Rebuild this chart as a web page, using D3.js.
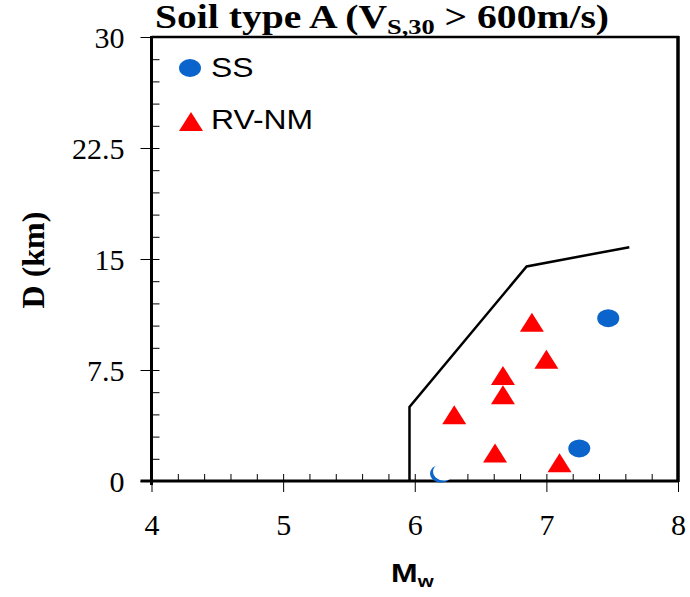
<!DOCTYPE html>
<html>
<head>
<meta charset="utf-8">
<script src="https://cdn.jsdelivr.net/npm/d3@7"></script>
<style>
  html, body { margin: 0; padding: 0; background: #fff; }
  svg { display: block; }
</style>
</head>
<body>
<script>
// Strike-slip (SS) events: magnitude and distance
const ssMw = [7.47, 7.25, 6.2];
const ssD  = [11.0, 2.2, 0.5];
// Reverse / normal (RV-NM) events
const rvMw = [6.89, 7.0, 6.67, 6.67, 6.3, 6.61, 7.1];
const rvD  = [10.7, 8.2, 7.1, 5.8, 4.45, 1.85, 1.2];
// Boundary of the applicability region
const boundMw = [5.96, 5.96, 6.85, 7.63];
const boundD  = [0, 5.0, 14.5, 15.8];
// Axis ticks
const xTicks = [4, 5, 6, 7, 8];
const yTicks = [0, 7.5, 15, 22.5, 30];
const legendLabels = ["SS", "RV-NM"];

const W = 690, H = 597;
const m = { left: 151.5, right: 678, top: 37, bottom: 481 };

const svg = d3.select("body").append("svg").attr("width", W).attr("height", H);

const x = d3.scaleLinear().domain([4, 8]).range([m.left, m.right]);
const y = d3.scaleLinear().domain([0, 30]).range([m.bottom, m.top]);

const serif = "'Liberation Serif', 'Times New Roman', serif";
const sans = "'Liberation Sans', Arial, sans-serif";

// minor ticks (inside)
const xMinor = d3.range(4, 8.0001, 0.2);
const yMinor = d3.range(0, 30.0001, 1.5);

const xAxisMinor = d3.axisTop(x).tickValues(xMinor).tickSize(7).tickFormat("");
svg.append("g").attr("transform", `translate(0,${m.bottom})`).call(xAxisMinor)
  .call(g => g.select(".domain").remove())
  .call(g => g.selectAll("line").attr("stroke", "#000").attr("stroke-width", 1));

const yAxisMinor = d3.axisRight(y).tickValues(yMinor).tickSize(8).tickFormat("");
svg.append("g").attr("transform", `translate(${m.left},0)`).call(yAxisMinor)
  .call(g => g.select(".domain").remove())
  .call(g => g.selectAll("line").attr("stroke", "#000").attr("stroke-width", 1));

// major ticks (outside) with labels
const xAxis = d3.axisBottom(x).tickValues(xTicks).tickSize(11).tickPadding(22).tickFormat(d3.format("d"));
svg.append("g").attr("transform", `translate(0,${m.bottom})`).call(xAxis)
  .call(g => g.select(".domain").remove())
  .call(g => g.selectAll("line").attr("stroke", "#000").attr("stroke-width", 1))
  .call(g => g.selectAll("text").attr("font-family", serif).attr("font-size", 30).attr("fill", "#000"));

const yAxis = d3.axisLeft(y).tickValues(yTicks).tickSize(11).tickPadding(16).tickFormat(d => String(d));
svg.append("g").attr("transform", `translate(${m.left},0)`).call(yAxis)
  .call(g => g.select(".domain").remove())
  .call(g => g.selectAll("line").attr("stroke", "#000").attr("stroke-width", 1))
  .call(g => g.selectAll("text").attr("font-family", serif).attr("font-size", 30).attr("fill", "#000").attr("dy", "0.35em"));

// frame
svg.append("line").attr("x1", m.left).attr("x2", m.left).attr("y1", m.top - 1).attr("y2", m.bottom + 4)
  .attr("stroke", "#000").attr("stroke-width", 3);
svg.append("line").attr("x1", m.left - 11).attr("x2", m.right + 1).attr("y1", m.bottom).attr("y2", m.bottom)
  .attr("stroke", "#000").attr("stroke-width", 3);
svg.append("line").attr("x1", m.right).attr("x2", m.right).attr("y1", m.top - 1).attr("y2", m.bottom + 1)
  .attr("stroke", "#000").attr("stroke-width", 3.5);
svg.append("line").attr("x1", m.left).attr("x2", m.right + 1).attr("y1", m.top).attr("y2", m.top)
  .attr("stroke", "#000").attr("stroke-width", 2.5);

// boundary line
const boundPts = boundMw.map((v, i) => [x(v), y(boundD[i])]);
svg.append("path").attr("d", d3.line()(boundPts)).attr("fill", "none")
  .attr("stroke", "#000").attr("stroke-width", 2.5).attr("stroke-linejoin", "miter");

const blue = "#0a64cc", red = "#ff0000";
const tri = (cx, cy) => `M${cx},${cy - 10}L${cx + 12},${cy + 9}L${cx - 12},${cy + 9}Z`;

// RV-NM triangles
svg.append("g").selectAll("path").data(rvMw).join("path")
  .attr("d", (d, i) => tri(x(d), y(rvD[i])))
  .attr("fill", red);

// SS circles
const ssG = svg.append("g");
ssMw.forEach((v, i) => {
  ssG.append("ellipse").attr("cx", x(v)).attr("cy", y(ssD[i])).attr("rx", 11).attr("ry", 9).attr("fill", blue);
});
// the event at the lower boundary is mostly masked in white
ssG.append("ellipse").attr("cx", x(ssMw[2]) + 3).attr("cy", y(ssD[2]) - 2).attr("rx", 11).attr("ry", 9).attr("fill", "#fff");

// legend (text slightly widened)
const lg = svg.append("g").attr("font-family", sans).attr("font-size", 27).attr("fill", "#000");
lg.append("ellipse").attr("cx", 190).attr("cy", 68).attr("rx", 11).attr("ry", 9).attr("fill", blue);
lg.append("text").attr("transform", "translate(211,77) scale(1.18,1)").text(legendLabels[0]);
lg.append("path").attr("d", tri(191, 122)).attr("fill", red);
lg.append("text").attr("transform", "translate(211,129) scale(1.18,1)").text(legendLabels[1]);

// title (widened)
const title = svg.append("text").attr("transform", "translate(155,28) scale(1.2,1)")
  .attr("font-family", serif).attr("font-weight", "bold").attr("font-size", 33).attr("fill", "#000");
title.append("tspan").text("Soil type A (V");
title.append("tspan").attr("font-size", 22).attr("dy", 6).text("S,30");
title.append("tspan").attr("dy", -6).text(" > 600m/s)");

// y axis label
svg.append("text").attr("transform", "translate(44,260) rotate(-90)")
  .attr("text-anchor", "middle").attr("font-family", serif).attr("font-weight", "bold")
  .attr("font-size", 32).attr("fill", "#000").text("D (km)");

// x axis label
const xl = svg.append("text").attr("transform", "translate(391,582) scale(1.28,1)")
  .attr("font-family", sans).attr("font-weight", "bold").attr("font-size", 25).attr("fill", "#000");
xl.append("tspan").text("M");
xl.append("tspan").attr("font-size", 16).attr("dy", 5).text("w");
</script>
</body>
</html>
